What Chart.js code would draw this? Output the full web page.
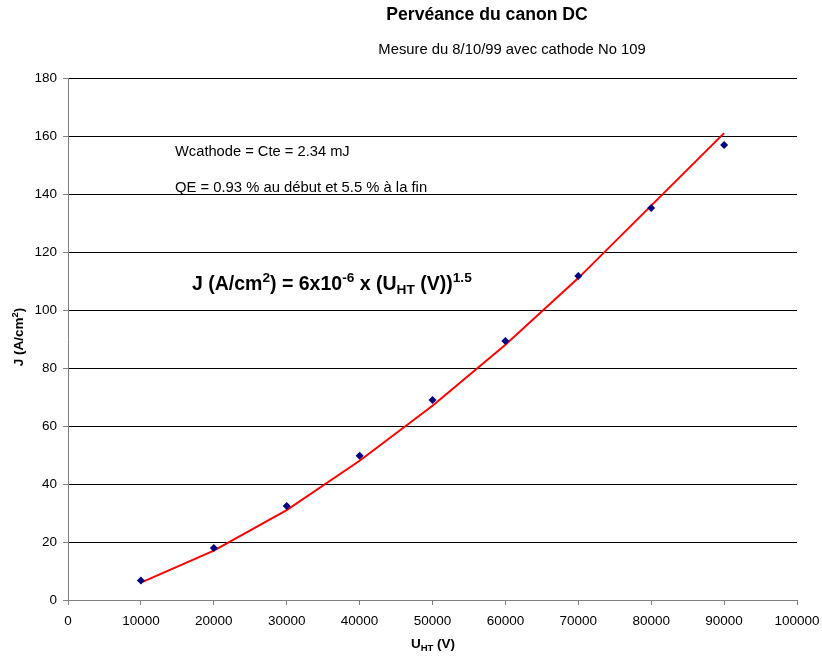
<!DOCTYPE html>
<html>
<head>
<meta charset="utf-8">
<script src="https://cdn.jsdelivr.net/npm/chart.js@4"></script>
<style>
  html, body { margin: 0; padding: 0; background: #fff; }
  #wrap { width: 822px; height: 656px; }
</style>
</head>
<body>
<div id="wrap"><canvas id="myChart" width="822" height="656"></canvas></div>
<script>
// data
const uht = [10000, 20000, 30000, 40000, 50000, 60000, 70000, 80000, 90000];
const jMesure = [6.7, 17.9, 32.4, 49.7, 69.0, 89.3, 111.7, 135.2, 156.9];
const jFit = [6, 17, 31, 48, 67, 88, 111, 136, 161];
const xMin = 0, xMax = 100000, xStep = 10000;
const yMin = 0, yMax = 180, yStep = 20;

const FONT = '"Liberation Sans", Arial, sans-serif';

// draws a line of text made of parts: [text, 'sup' | 'sub' | undefined], y = baseline
function drawRich(c, x, y, parts, size, bold, align) {
  const w = bold ? 'bold ' : '';
  const small = Math.round(size * 0.7 * 10) / 10;
  let total = 0;
  parts.forEach(p => {
    c.font = w + (p[1] ? small : size) + 'px ' + FONT;
    total += c.measureText(p[0]).width;
  });
  let cx = align === 'center' ? x - total / 2 : x;
  c.textAlign = 'left';
  c.textBaseline = 'alphabetic';
  parts.forEach(p => {
    c.font = w + (p[1] ? small : size) + 'px ' + FONT;
    let dy = 0;
    if (p[1] === 'sup') dy = -size * 0.4;
    if (p[1] === 'sub') dy = size * 0.2;
    c.fillText(p[0], cx, y + dy);
    cx += c.measureText(p[0]).width;
  });
}

const textPlugin = {
  id: 'texts',
  afterDraw(chart) {
    const c = chart.ctx;
    c.save();
    c.fillStyle = '#000';
    drawRich(c, 487, 19.5, [['Pervéance du canon DC']], 17.6, true, 'center');
    drawRich(c, 512, 53.5, [['Mesure du 8/10/99 avec cathode No 109']], 14.8, false, 'center');
    drawRich(c, 175, 156, [['Wcathode = Cte = 2.34 mJ']], 14.7, false, 'left');
    drawRich(c, 175, 192, [['QE = 0.93 % au début et 5.5 % à la fin']], 14.8, false, 'left');
    drawRich(c, 192, 290, [['J (A/cm'], ['2', 'sup'], [') = 6x10'], ['-6', 'sup'], [' x (U'], ['HT', 'sub'], [' (V))'], ['1.5', 'sup']], 19.5, true, 'left');
    drawRich(c, 433, 648, [['U'], ['HT', 'sub'], [' (V)']], 13.5, true, 'center');
    c.translate(23, 337);
    c.rotate(-Math.PI / 2);
    drawRich(c, 0, 0, [['J (A/cm'], ['2', 'sup'], [')']], 13.5, true, 'center');
    c.restore();
  }
};

const ctx = document.getElementById('myChart');

new Chart(ctx, {
  type: 'scatter',
  data: {
    datasets: [
      {
        label: 'fit',
        data: uht.map((u, i) => ({ x: u, y: jFit[i] })),
        showLine: true,
        borderColor: '#ff0000',
        borderWidth: 2,
        pointRadius: 0,
        tension: 0,
        order: 2
      },
      {
        label: 'mesure',
        data: uht.map((u, i) => ({ x: u, y: jMesure[i] })),
        pointStyle: 'rectRot',
        pointRadius: 4,
        backgroundColor: '#000080',
        borderColor: '#000080',
        borderWidth: 0,
        order: 1
      }
    ]
  },
  options: {
    responsive: false,
    animation: false,
    devicePixelRatio: 1,
    layout: { padding: { top: 78, right: 25, left: 0, bottom: 0 } },
    plugins: { legend: { display: false }, tooltip: { enabled: false } },
    scales: {
      x: {
        type: 'linear',
        min: xMin, max: xMax,
        afterFit(s) { s.height = 56; s.paddingLeft = 0; s.paddingRight = 0; },
        ticks: { stepSize: xStep, maxRotation: 0, padding: 8, color: '#000',
                 font: { family: FONT, size: 13.5 }, callback: v => String(v) },
        grid: { drawOnChartArea: false, drawTicks: true, tickLength: 5, color: '#808080' },
        border: { color: '#808080', width: 1 }
      },
      y: {
        min: yMin, max: yMax,
        afterFit(s) { s.width = 68; s.paddingTop = 0; s.paddingBottom = 0; },
        ticks: { stepSize: yStep, padding: 6, color: '#000',
                 font: { family: FONT, size: 13.5 }, callback: v => String(v) },
        grid: { color: '#000', tickColor: '#808080', tickLength: 5, lineWidth: 1 },
        border: { color: '#808080', width: 1 }
      }
    }
  },
  plugins: [textPlugin]
});
</script>
</body>
</html>
